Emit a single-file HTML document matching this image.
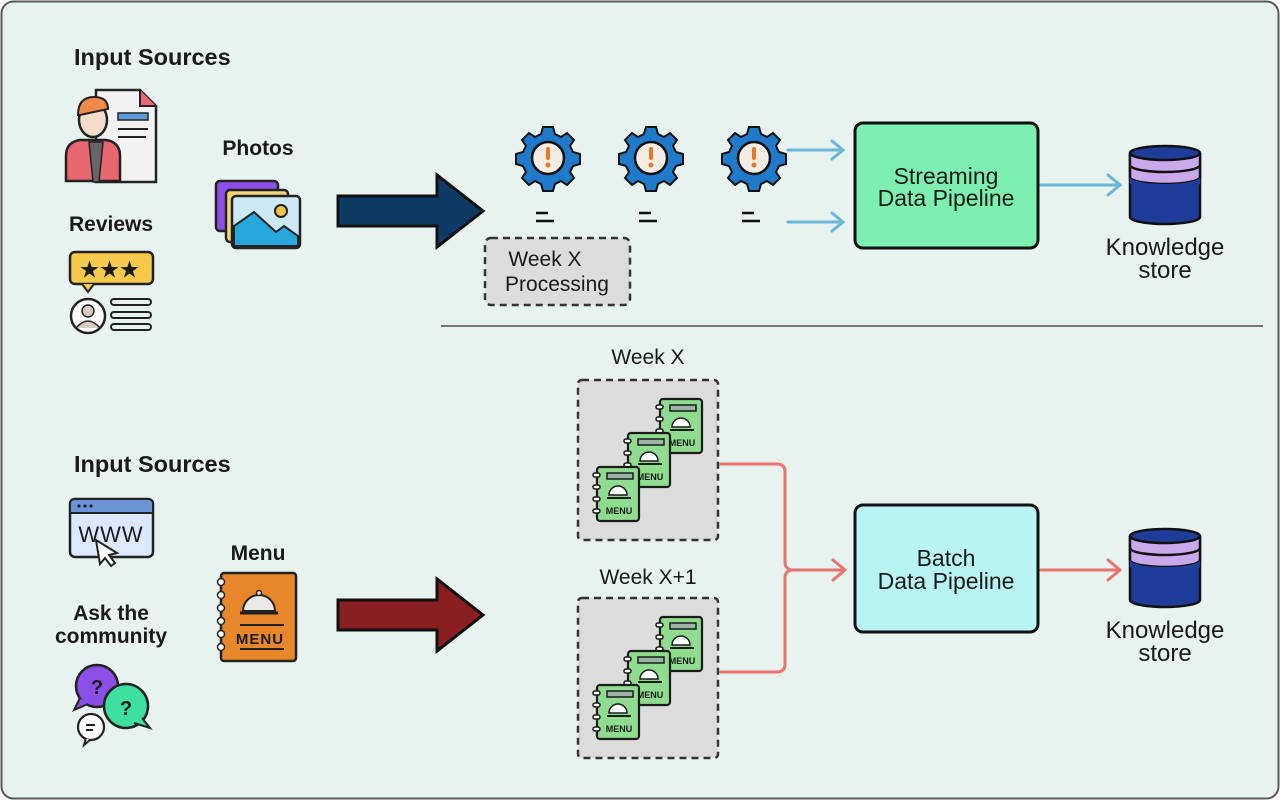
<!DOCTYPE html>
<html><head><meta charset="utf-8"><style>
html,body{margin:0;padding:0;background:#fff;}
svg{display:block;}
text{font-family:"Liberation Sans",sans-serif;fill:#1a1a1a;}
</style></head><body>
<svg width="1280" height="800" viewBox="0 0 1280 800" xmlns="http://www.w3.org/2000/svg">
<defs>
<g id="book">
  <rect x="0" y="0" width="42" height="54" rx="3" fill="#8fdc8f" stroke="#1a1a1a" stroke-width="2.2"/>
  <rect x="10" y="6" width="26" height="6" fill="#9ab5a5" stroke="#1a1a1a" stroke-width="1.5"/>
  <path d="M12 28 a9 9 0 0 1 18 0 z" fill="#fff" stroke="#1a1a1a" stroke-width="1.5"/>
  <line x1="10" y1="31" x2="34" y2="31" stroke="#1a1a1a" stroke-width="2"/>
  <text x="22" y="47" font-size="9" font-weight="bold" text-anchor="middle">MENU</text>
  <g fill="#fff" stroke="#1a1a1a" stroke-width="1.5">
  <rect x="-4" y="6" width="7" height="4" rx="2"/><rect x="-4" y="18" width="7" height="4" rx="2"/><rect x="-4" y="30" width="7" height="4" rx="2"/><rect x="-4" y="42" width="7" height="4" rx="2"/></g>
</g>
<g id="gear">
  <g fill="#1f7acc" stroke="#111" stroke-width="2">
  <path d="M-5 -31 h10 l2 7 l6 3 l6 -4 l7 7 l-4 6 l3 6 l7 2 v10 l-7 2 l-3 6 l4 6 l-7 7 l-6 -4 l-6 3 l-2 7 h-10 l-2 -7 l-6 -3 l-6 4 l-7 -7 l4 -6 l-3 -6 l-7 -2 v-10 l7 -2 l3 -6 l-4 -6 l7 -7 l6 4 l6 -3 z"/></g>
  <circle r="16" fill="#f4ede4" stroke="#111" stroke-width="2.5"/>
  <rect x="-2" y="-11" width="4" height="13" rx="2" fill="#e8772e"/>
  <circle cy="7" r="2.5" fill="#e8772e"/>
  <line x1="-12" y1="55" x2="0" y2="55" stroke="#111" stroke-width="2.5"/>
  <line x1="-12" y1="63" x2="6" y2="63" stroke="#111" stroke-width="2.5"/>
</g>
<g id="db">
  <path d="M0 8 V72 a35 7 0 0 0 70 0 V8" fill="#1f3c9a" stroke="#111" stroke-width="2.5"/>
  <path d="M0 8 V32 a35 7 0 0 0 70 0 V8" fill="#c9a8ec" stroke="#111" stroke-width="2.5"/>
  <path d="M0 20 a35 7 0 0 0 70 0" fill="none" stroke="#111" stroke-width="2.5"/>
  <path d="M0 32 a35 7 0 0 0 70 0 V38 a35 7 0 0 1 -70 0 z" fill="#1f3c9a" stroke="none"/>
  <ellipse cx="35" cy="8" rx="35" ry="7" fill="#1f3c9a" stroke="#111" stroke-width="2.5"/>
</g>
</defs>
<rect x="1.5" y="1.5" width="1277" height="797" rx="12" fill="#e8f2ee" stroke="#5a5a5a" stroke-width="2"/>

<text x="74" y="65" font-size="23.5" font-weight="bold">Input Sources</text>
<path d="M96 90 h44 l16 16 v76 h-60 z" fill="#f2f2f2" stroke="#222" stroke-width="2.5"/>
<path d="M140 90 v16 h16" fill="#e86a78" stroke="#222" stroke-width="2"/>
<rect x="118" y="113" width="30" height="7" fill="#5d9ad8" stroke="#222" stroke-width="1.5"/>
<line x1="118" y1="129" x2="148" y2="129" stroke="#222" stroke-width="2"/>
<line x1="118" y1="137" x2="146" y2="137" stroke="#222" stroke-width="2"/>
<path d="M66 181 v-25 q0-14 14-16 h26 q14 2 14 16 v25 z" fill="#e8676f" stroke="#222" stroke-width="2.5"/>
<path d="M89 142 l4 40 h6 l4-40 z" fill="#666" stroke="#222" stroke-width="1.5"/>
<ellipse cx="93" cy="120" rx="14" ry="17" fill="#f6dccb" stroke="#222" stroke-width="2.5"/>
<path d="M78 115 q0-18 16-18 q14 0 14 12 l-28 6 z" fill="#ee8a4a" stroke="#222" stroke-width="2"/>
<text x="111" y="231" font-size="21" font-weight="bold" text-anchor="middle">Reviews</text>
<rect x="70" y="252" width="83" height="32" rx="5" fill="#f5c94c" stroke="#222" stroke-width="2.5"/>
<path d="M82 284 l6 8 l6-8" fill="#f5c94c" stroke="#222" stroke-width="2"/>
<text x="111" y="276" font-size="19" text-anchor="middle" fill="#e8b030" stroke="#222" stroke-width="1.2" letter-spacing="3">★★★</text>
<circle cx="88" cy="316" r="17" fill="#fff" stroke="#222" stroke-width="2.5"/>
<circle cx="88" cy="311" r="6" fill="#d8cbc0" stroke="#222" stroke-width="1.5"/>
<path d="M76 328 q12-14 24 0" fill="#d8cbc0" stroke="#222" stroke-width="1.5"/>
<g stroke="#222" stroke-width="2" fill="none"><rect x="111" y="299" width="40" height="6" rx="3"/><rect x="111" y="312" width="40" height="6" rx="3"/><rect x="111" y="324" width="40" height="6" rx="3"/></g>

<text x="258" y="155" font-size="21" font-weight="bold" text-anchor="middle">Photos</text>
<rect x="216" y="181" width="62" height="50" rx="4" fill="#8c4fe8" stroke="#222" stroke-width="2.5"/>
<rect x="226" y="190" width="62" height="52" rx="4" fill="#f0d47a" stroke="#222" stroke-width="2.5"/>
<rect x="232" y="196" width="68" height="52" rx="4" fill="#cde9f5" stroke="#222" stroke-width="2.5"/>
<path d="M234 246 v-20 l20-14 l22 20 l8-6 l14 10 v10 z" fill="#27a8dc" stroke="#222" stroke-width="2"/>
<circle cx="281" cy="211" r="6" fill="#f4c44a" stroke="#222" stroke-width="2"/>

<path d="M338 196 h99 v-21 l46 36 l-46 36 v-21 h-99 z" fill="#0e3a66" stroke="#111" stroke-width="3"/>

<use href="#gear" x="548" y="158"/>
<use href="#gear" x="651" y="158"/>
<use href="#gear" x="754" y="158"/>

<rect x="485" y="238" width="145" height="67" rx="6" fill="#dcdcdc" stroke="#333" stroke-width="2.5" stroke-dasharray="7 5"/>
<text x="545" y="266" font-size="21" text-anchor="middle">Week X</text>
<text x="557" y="291" font-size="21" text-anchor="middle">Processing</text>

<g stroke="#6ab7d8" stroke-width="3" fill="none" stroke-linecap="round">
<line x1="788" y1="150" x2="843" y2="150"/><path d="M832 141 l11 9 l-11 9"/>
<line x1="788" y1="222" x2="843" y2="222"/><path d="M832 213 l11 9 l-11 9"/>
<line x1="1041" y1="185" x2="1120" y2="185"/><path d="M1108 175 l12 10 l-12 10"/>
</g>
<rect x="855" y="123" width="183" height="125" rx="8" fill="#7df0b0" stroke="#111" stroke-width="3"/>
<text x="946" y="184" font-size="23" text-anchor="middle">Streaming</text>
<text x="946" y="206" font-size="23" text-anchor="middle">Data Pipeline</text>
<use href="#db" x="1130" y="145"/>
<text x="1165" y="255" font-size="24" text-anchor="middle">Knowledge</text>
<text x="1165" y="278" font-size="24" text-anchor="middle">store</text>

<line x1="441" y1="326" x2="1263" y2="326" stroke="#777" stroke-width="2"/>

<text x="74" y="472" font-size="23.5" font-weight="bold">Input Sources</text>
<rect x="70" y="499" width="83" height="58" rx="5" fill="#dce8fb" stroke="#222" stroke-width="2.5"/>
<path d="M70 513 v-9 q0-5 5-5 h73 q5 0 5 5 v9 z" fill="#6b94d8" stroke="#222" stroke-width="2"/>
<circle cx="79" cy="506" r="1.6" fill="#222"/><circle cx="85" cy="506" r="1.6" fill="#222"/><circle cx="91" cy="506" r="1.6" fill="#222"/>
<text x="111" y="542" font-size="22" text-anchor="middle" letter-spacing="1">WWW</text>
<path d="M96 540 l4 24 l5-6 l6 8 l4-3 l-6-8 l8-2 z" fill="#fff" stroke="#222" stroke-width="2"/>
<text x="111" y="620" font-size="21" font-weight="bold" text-anchor="middle">Ask the</text>
<text x="111" y="643" font-size="21" font-weight="bold" text-anchor="middle">community</text>
<circle cx="97" cy="686" r="21" fill="#8b4fe8" stroke="#222" stroke-width="2.5"/>
<path d="M80 698 l-6 12 l14-6" fill="#8b4fe8" stroke="#222" stroke-width="2"/>
<circle cx="126" cy="706" r="22" fill="#3de0a0" stroke="#222" stroke-width="2.5"/>
<path d="M142 718 l8 10 l-16-5" fill="#3de0a0" stroke="#222" stroke-width="2"/>
<text x="97" y="694" font-size="20" font-weight="bold" text-anchor="middle">?</text>
<text x="126" y="715" font-size="20" font-weight="bold" text-anchor="middle">?</text>
<circle cx="91" cy="727" r="13" fill="#fff" stroke="#222" stroke-width="2.2"/>
<path d="M86 738 l-2 7 l6-5" fill="#fff" stroke="#222" stroke-width="2"/>
<line x1="86" y1="725" x2="95" y2="725" stroke="#222" stroke-width="2"/><line x1="86" y1="730" x2="93" y2="730" stroke="#222" stroke-width="2"/>

<text x="258" y="560" font-size="21" font-weight="bold" text-anchor="middle">Menu</text>
<rect x="221" y="573" width="75" height="88" rx="3" fill="#e8872a" stroke="#222" stroke-width="2.5"/>
<g fill="#fff" stroke="#222" stroke-width="1.5"><circle cx="221" cy="582" r="3.5"/><circle cx="221" cy="595" r="3.5"/><circle cx="221" cy="608" r="3.5"/><circle cx="221" cy="621" r="3.5"/><circle cx="221" cy="634" r="3.5"/><circle cx="221" cy="647" r="3.5"/></g>
<path d="M243 611 a16 16 0 0 1 32 0 z" fill="#e8e8e8" stroke="#222" stroke-width="2"/>
<circle cx="259" cy="593" r="2.5" fill="#e8e8e8" stroke="#222" stroke-width="1.5"/>
<line x1="240" y1="613" x2="278" y2="613" stroke="#222" stroke-width="3"/>
<line x1="240" y1="625" x2="284" y2="625" stroke="#222" stroke-width="2"/>
<text x="260" y="644" font-size="15" font-weight="bold" text-anchor="middle" letter-spacing="1">MENU</text>
<line x1="240" y1="649" x2="284" y2="649" stroke="#222" stroke-width="2"/>

<path d="M338 600 h99 v-21 l46 36 l-46 36 v-21 h-99 z" fill="#8a1f22" stroke="#111" stroke-width="3"/>

<text x="648" y="364" font-size="21" text-anchor="middle">Week X</text>
<rect x="578" y="380" width="140" height="160" rx="4" fill="#dcdcdc" stroke="#333" stroke-width="2.5" stroke-dasharray="7 5"/>
<use href="#book" x="660" y="399"/>
<use href="#book" x="628" y="433"/>
<use href="#book" x="597" y="467"/>
<text x="648" y="584" font-size="21" text-anchor="middle">Week X+1</text>
<rect x="578" y="598" width="140" height="160" rx="4" fill="#dcdcdc" stroke="#333" stroke-width="2.5" stroke-dasharray="7 5"/>
<use href="#book" x="660" y="617"/>
<use href="#book" x="628" y="651"/>
<use href="#book" x="597" y="685"/>

<g stroke="#e8736f" stroke-width="3" fill="none" stroke-linecap="round" stroke-linejoin="round">
<path d="M721 464 h56 q8 0 8 8 v90 q0 7 7 8"/>
<path d="M721 672 h56 q8 0 8-8 v-86 q0-7 7-8"/>
<line x1="790" y1="570" x2="845" y2="570"/><path d="M833 560 l12 10 l-12 10"/>
<line x1="1041" y1="570" x2="1120" y2="570"/><path d="M1108 560 l12 10 l-12 10"/>
</g>
<rect x="855" y="505" width="183" height="127" rx="8" fill="#b8f4f4" stroke="#111" stroke-width="3"/>
<text x="946" y="566" font-size="23" text-anchor="middle">Batch</text>
<text x="946" y="589" font-size="23" text-anchor="middle">Data Pipeline</text>
<use href="#db" x="1130" y="528"/>
<text x="1165" y="638" font-size="24" text-anchor="middle">Knowledge</text>
<text x="1165" y="661" font-size="24" text-anchor="middle">store</text>
</svg>
</body></html>
